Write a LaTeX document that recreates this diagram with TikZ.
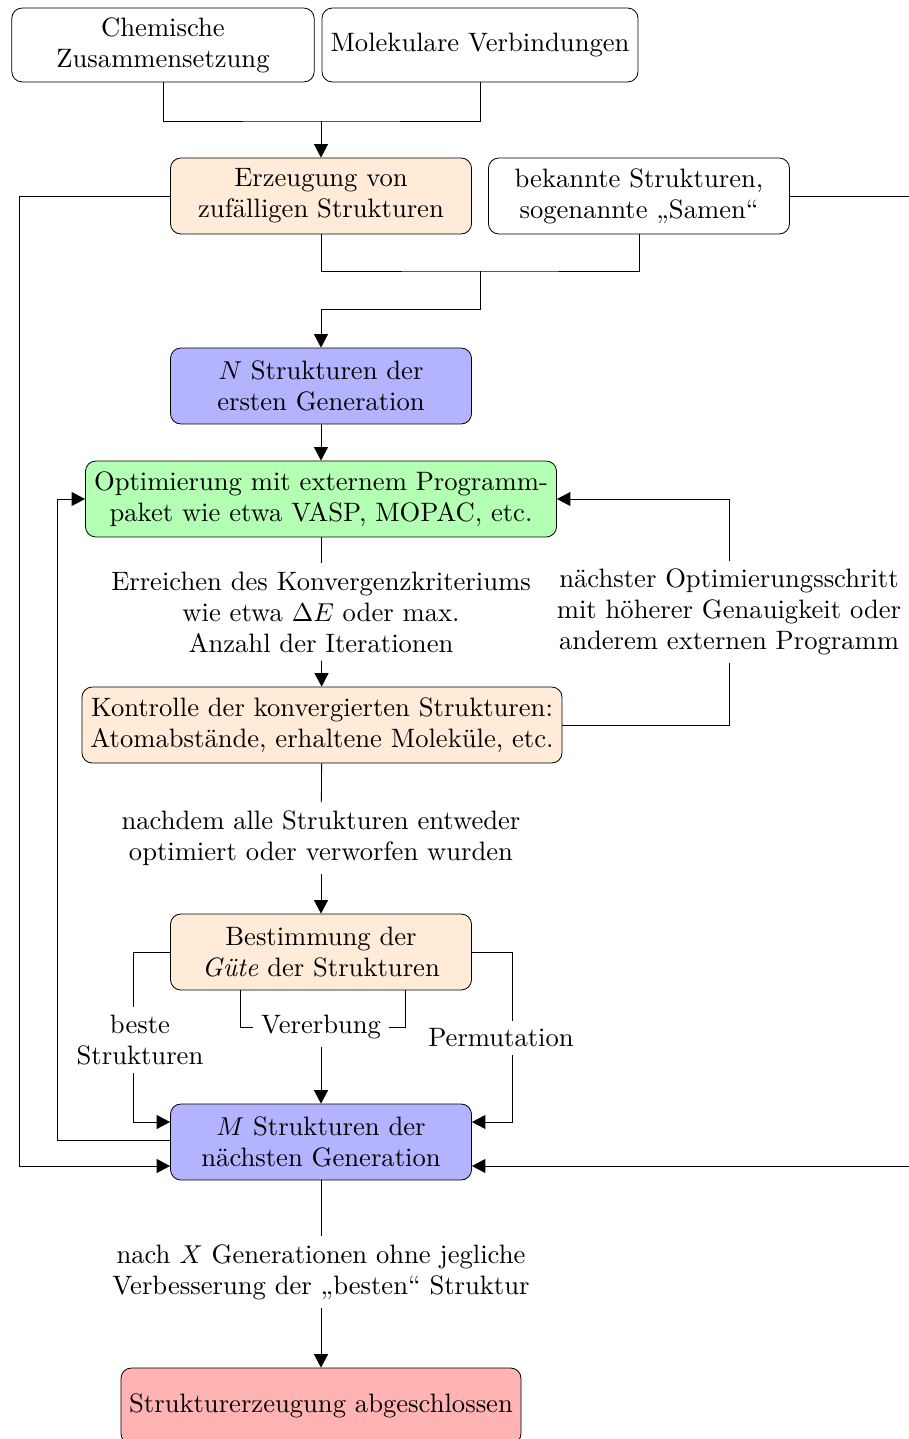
\documentclass[tikz,border=0pt]{standalone}
\usepackage{amsmath}
\usepackage{tikz}
\usetikzlibrary{arrows.meta, positioning, calc}
\definecolor{peach}{HTML}{FFEBD7}
\definecolor{lilac}{HTML}{B3B3FF}
\definecolor{mint}{HTML}{B3FFB3}
\definecolor{rose}{HTML}{FFB3B3}
\tikzset{
  box/.style={draw, rounded corners=4pt, align=center, minimum width=116.5pt, minimum height=29.4pt, inner sep=3pt},
  lbl/.style={align=center, inner sep=3pt},
  flow/.style={-{Triangle[length=5.2pt,width=5.4pt]}},
}

\begin{document}
\begin{tikzpicture}[x=0.387pt, y=-0.387pt, line width=0.32pt, font=\fontsize{10.3pt}{12pt}\selectfont]
\useasboundingbox (0,0) rectangle (909,1439);

\node[box, minimum width=117pt, minimum height=28.6pt] (chem) at (163,45) {Chemische\\Zusammensetzung};
\node[box, minimum width=122.3pt, minimum height=28.6pt] (molek) at (480,45) {Molekulare Verbindungen};
\node[box, fill=peach] (erzeug) at (321,196) {Erzeugung von\\zufälligen Strukturen};
\node[box] (samen) at (639,196) {bekannte Strukturen,\\sogenannte „Samen“};
\node[box, fill=lilac] (ngen) at (321,386) {$N$ Strukturen der\\ersten Generation};
\node[box, fill=mint, minimum width=182.3pt] (optim) at (321,499) {Optimierung mit externem Programm-\\paket wie etwa VASP, MOPAC, etc.};
\node[box, fill=peach, minimum width=185.8pt] (kontr) at (322,725) {Kontrolle der konvergierten Strukturen:\\Atomabstände, erhaltene Moleküle, etc.};
\node[box, fill=peach] (guete) at (321,952) {Bestimmung der\\\emph{Güte} der Strukturen};
\node[box, fill=lilac] (mgen) at (321,1142) {$M$ Strukturen der\\nächsten Generation};
\node[box, fill=rose, minimum width=154.8pt] (fertig) at (321,1406) {Strukturerzeugung abgeschlossen};

\node[lbl] (konv) at (321,612) {Erreichen des Konvergenzkriteriums\\wie etwa $\Delta E$ oder max.\\Anzahl der Iterationen};
\node[lbl] (naechst) at (729,612) {nächster Optimierungsschritt\\mit höherer Genauigkeit oder\\anderem externen Programm};
\node[lbl] (verworf) at (321,838) {nachdem alle Strukturen entweder\\optimiert oder verworfen wurden};
\node[lbl] (beste) at (140,1040) {beste\\Strukturen};
\node[lbl] (vererb) at (321,1027) {Vererbung};
\node[lbl] (perm) at (501,1038) {Permutation};
\node[lbl] (abbruch) at (321,1272) {nach $X$ Generationen ohne jegliche\\Verbesserung der „besten“ Struktur};

\coordinate (m1) at (321,121);
\coordinate (m2) at (480,271);
\coordinate (bx) at (133,1040);
\coordinate (px) at (512,1038);

\draw (chem.south) |- (m1) -| (molek.south);
\draw[flow] (m1) -- (erzeug.north);
\draw (erzeug.south) |- (m2) -| (samen.south);
\draw[flow] (m2) |- ($(ngen.north)+(0,-38)$) -- (ngen.north);
\draw[flow] (ngen) -- (optim);
\draw (optim) -- (konv);
\draw[flow] (konv) -- (kontr);
\draw (kontr.east) -| (naechst.south);
\draw[flow] (naechst.north) |- (optim.east);
\draw (kontr) -- (verworf);
\draw[flow] (verworf) -- (guete);
\draw (guete.west) -| (bx |- beste.north);
\draw[flow] (bx |- beste.south) |- ($(mgen.west)+(0,-20)$);
\draw (guete.east) -| (px |- perm.north);
\draw[flow] (px |- perm.south) |- ($(mgen.east)+(0,-20)$);
\draw ($(guete.south)+(-81,0)$) |- (vererb.west);
\draw (vererb.east) -| ($(guete.south)+(84,0)$);
\draw[flow] (vererb) -- (mgen);
\draw[flow] ($(mgen.west)+(0,-2)$) -| (57,499) -- (optim.west);
\draw[flow] (erzeug.west) -| (19,1166) -- ($(mgen.west)+(0,24)$);
\draw[flow] (samen.east) -| (909,1166) -- ($(mgen.east)+(0,24)$);
\draw (mgen) -- (abbruch);
\draw[flow] (abbruch) -- (fertig);
\end{tikzpicture}
\end{document}
